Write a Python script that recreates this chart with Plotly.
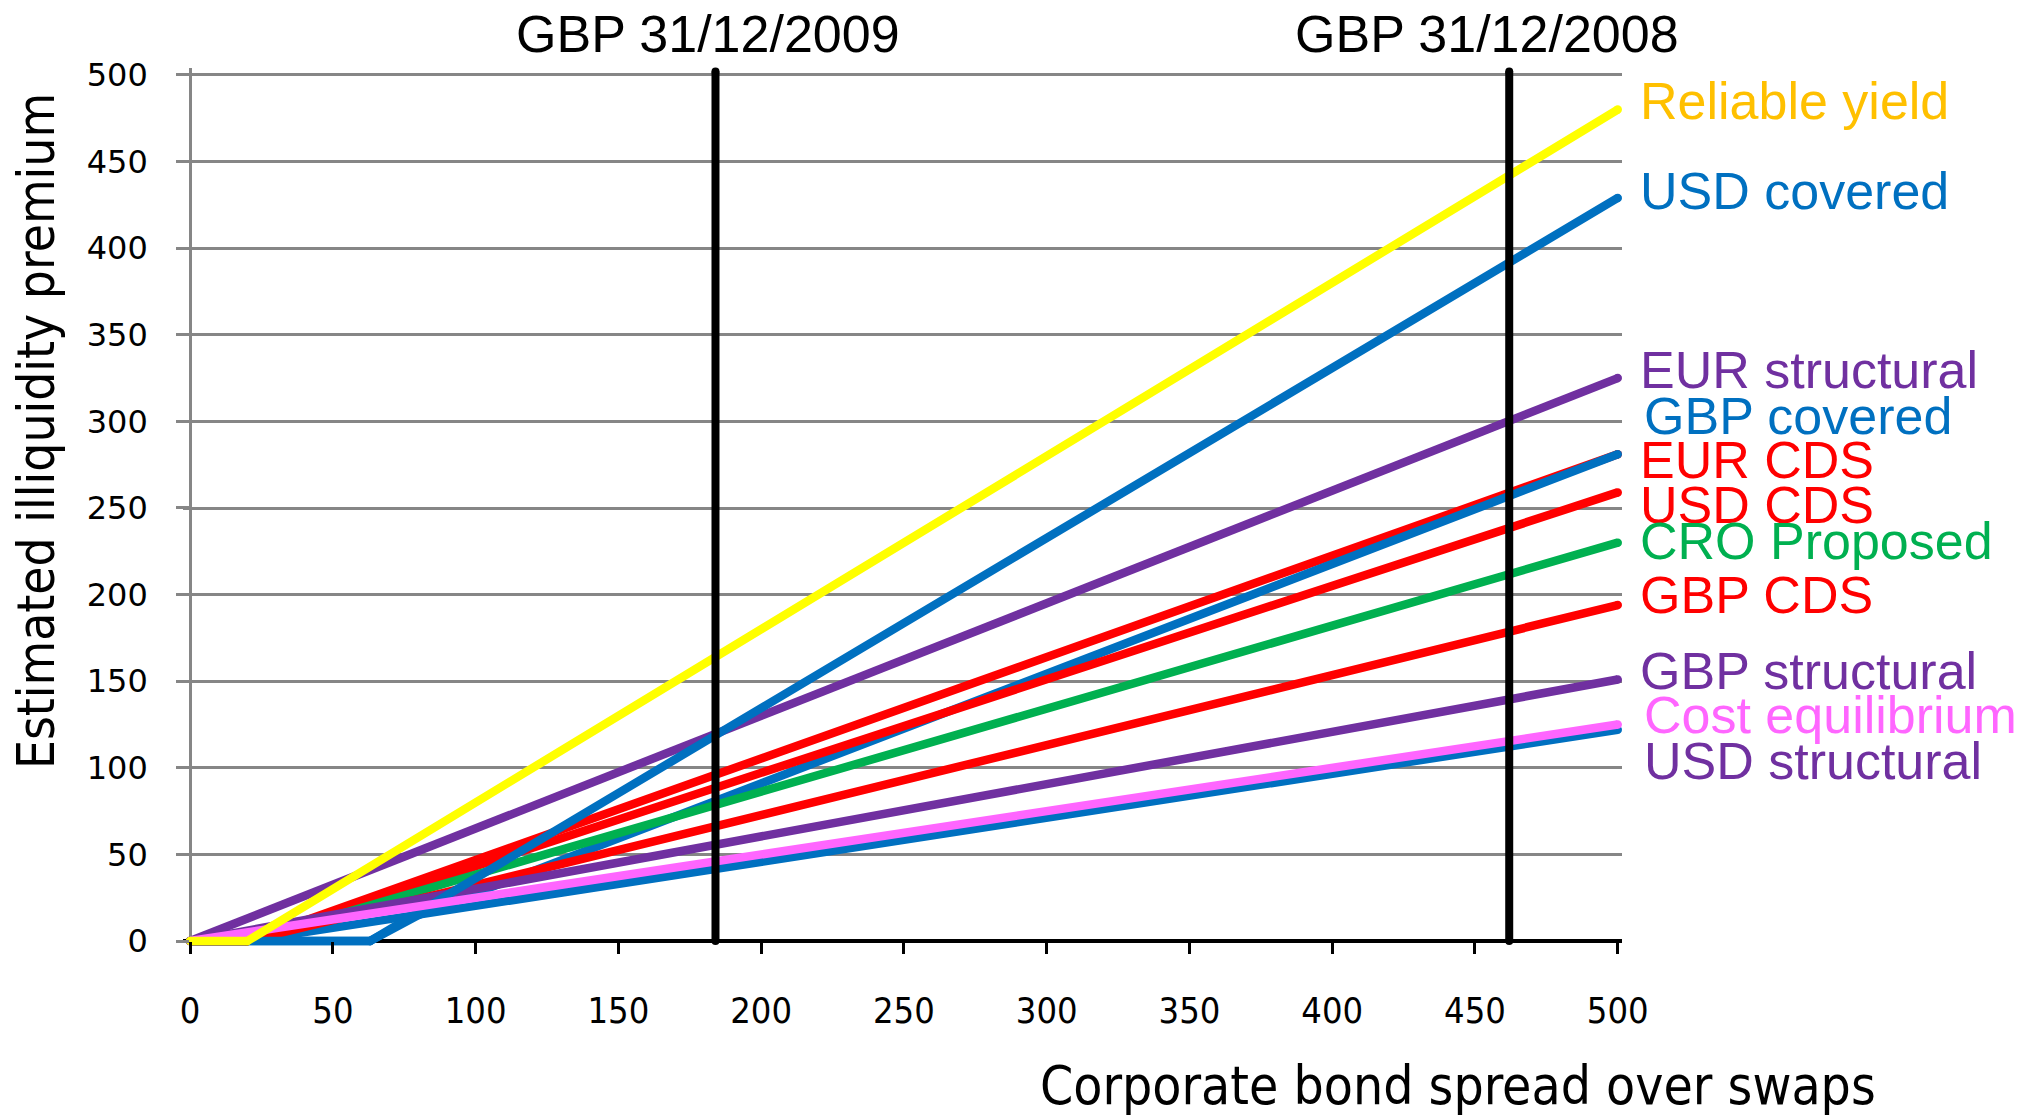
import plotly.graph_objects as go

# ---- data: corporate bond spread (x) vs estimated illiquidity premium (y), bp ----
reliable_yield_x = [0, 20, 500]
reliable_yield_y = [0, 0, 480]

usd_covered_x = [0, 63, 500]
usd_covered_y = [0, 0, 429]

eur_structural_x = [0, 500]
eur_structural_y = [0, 325]

gbp_covered_x = [0, 63, 80, 500]
gbp_covered_y = [0, 0, 15, 281]

eur_cds_x = [0, 20, 500]
eur_cds_y = [0, 0, 281]

usd_cds_x = [0, 20, 500]
usd_cds_y = [0, 0, 259]

cro_proposed_x = [0, 20, 500]
cro_proposed_y = [0, 0, 230]

gbp_cds_x = [0, 20, 500]
gbp_cds_y = [0, 0, 194]

gbp_structural_x = [0, 500]
gbp_structural_y = [0, 151]

cost_equilibrium_x = [0, 500]
cost_equilibrium_y = [0, 125]

usd_structural_x = [0, 20, 500]
usd_structural_y = [0, 0, 122]

# reference dates (spread level on the date)
ref_dates = ["GBP 31/12/2009", "GBP 31/12/2008"]
ref_spreads = [184, 462]
ref_line_top = 502

x_ticks = [0, 50, 100, 150, 200, 250, 300, 350, 400, 450, 500]
y_ticks = [0, 50, 100, 150, 200, 250, 300, 350, 400, 450, 500]

# label name, colour, label position (y, bp), extra x shift
labels = [
    ("Reliable yield", "#FFC000", 485, 0),
    ("USD covered", "#0070C0", 433, 0),
    ("EUR structural", "#7030A0", 329.5, 0),
    ("GBP covered", "#0070C0", 303, 4),
    ("EUR CDS", "#FF0000", 277.5, 0),
    ("USD CDS", "#FF0000", 252, 0),
    ("CRO Proposed", "#00B050", 231, 0),
    ("GBP CDS", "#FF0000", 199.5, 0),
    ("GBP structural", "#7030A0", 156, 0),
    ("Cost equilibrium", "#FF66FF", 130.5, 4),
    ("USD structural", "#7030A0", 104, 4),
]

BLUE = "#0070C0"
PURPLE = "#7030A0"
RED = "#FF0000"
GREEN = "#00B050"
PINK = "#FF66FF"
YELLOW = "#FFFF00"
GRID = "#868686"

NARROW = "DejaVu Sans Condensed, Liberation Sans Narrow, Arial Narrow, sans-serif"
ARIAL = "Liberation Sans, Arial, sans-serif"
WIDE = "DejaVu Sans, Verdana, sans-serif"

LW = 8.5

# drawing order: first is bottom-most
series = [
    ("USD structural", usd_structural_x, usd_structural_y, BLUE),
    ("EUR CDS", eur_cds_x, eur_cds_y, RED),
    ("GBP covered", gbp_covered_x, gbp_covered_y, BLUE),
    ("USD CDS", usd_cds_x, usd_cds_y, RED),
    ("CRO Proposed", cro_proposed_x, cro_proposed_y, GREEN),
    ("GBP CDS", gbp_cds_x, gbp_cds_y, RED),
    ("GBP structural", gbp_structural_x, gbp_structural_y, PURPLE),
    ("EUR structural", eur_structural_x, eur_structural_y, PURPLE),
    ("USD covered", usd_covered_x, usd_covered_y, BLUE),
    ("Cost equilibrium", cost_equilibrium_x, cost_equilibrium_y, PINK),
    ("Reliable yield", reliable_yield_x, reliable_yield_y, YELLOW),
]

fig = go.Figure()

for name, xs, ys, col in series:
    fig.add_trace(go.Scatter(
        x=xs, y=ys, name=name, mode="lines+markers",
        line=dict(color=col, width=LW),
        marker=dict(color=col, size=LW, line=dict(width=0)),
        cliponaxis=False, hoverinfo="skip",
    ))

# vertical reference-date lines
for name, xv in zip(ref_dates, ref_spreads):
    fig.add_trace(go.Scatter(
        x=[xv, xv], y=[0, ref_line_top], name=name, mode="lines+markers",
        line=dict(color="black", width=8),
        marker=dict(color="black", size=8, line=dict(width=0)),
        cliponaxis=False, hoverinfo="skip",
    ))

# empty trace so the tick frame subplot is created
fig.add_trace(go.Scatter(
    x=[0], y=[0], xaxis="x2", yaxis="y2", mode="markers",
    marker=dict(opacity=0, size=1), hoverinfo="skip", showlegend=False,
))

# geometry: main axes slightly padded so thick lines on the edges are not clipped
X_RANGE = [-2.5, 501.5]
Y_RANGE = [-4, 504]
W, H = 2040, 1119
ML, MT = 183, 68
PX_X = 2.856
PX_Y = 1.732
plot_w = (X_RANGE[1] - X_RANGE[0]) * PX_X
plot_h = (Y_RANGE[1] - Y_RANGE[0]) * PX_Y
MR = W - ML - plot_w
MB = H - MT - plot_h

xd0 = (0 - X_RANGE[0]) / (X_RANGE[1] - X_RANGE[0])
xd1 = (500 - X_RANGE[0]) / (X_RANGE[1] - X_RANGE[0])
yd0 = (0 - Y_RANGE[0]) / (Y_RANGE[1] - Y_RANGE[0])
yd1 = (500 - Y_RANGE[0]) / (Y_RANGE[1] - Y_RANGE[0])


def paper_x(px):
    return (px - ML) / plot_w


def paper_y(py):
    return (H - MB - py) / plot_h


fig.update_layout(
    width=W, height=H,
    margin=dict(l=ML, r=MR, t=MT, b=MB, pad=0),
    paper_bgcolor="white",
    plot_bgcolor="rgba(0,0,0,0)",
    showlegend=False,
    xaxis=dict(
        range=X_RANGE, showgrid=False, showticklabels=False, ticks="",
        zeroline=True, zerolinecolor=GRID, zerolinewidth=3, showline=False,
    ),
    yaxis=dict(
        range=Y_RANGE, tickvals=y_ticks[1:], showgrid=True, gridcolor=GRID, gridwidth=3,
        showticklabels=False, ticks="", zeroline=True, zerolinecolor="black",
        zerolinewidth=4, showline=False,
    ),
    # tick marks and tick labels on an exact 0-500 frame
    xaxis2=dict(
        domain=[xd0, xd1], anchor="y2", range=[0, 500], tickvals=x_ticks,
        ticks="outside", ticklen=12, tickwidth=3, tickcolor="black",
        showgrid=False, zeroline=False, showline=False,
        tickfont=dict(family=NARROW, size=36, color="black"),
        ticklabelstandoff=26,
    ),
    yaxis2=dict(
        domain=[yd0, yd1], anchor="x2", range=[0, 500], tickvals=y_ticks,
        ticks="outside", ticklen=13, tickwidth=3, tickcolor=GRID,
        showgrid=False, zeroline=False, showline=False,
        tickfont=dict(family=WIDE, size=32, color="black"),
        ticklabelstandoff=22,
    ),
)

annotations = []
for text, col, yv, dx in labels:
    annotations.append(dict(
        x=500, y=yv, xref="x", yref="y", text=text, showarrow=False,
        xanchor="left", yanchor="middle", xshift=20 + dx,
        font=dict(family=ARIAL, size=52, color=col),
    ))

# reference-date titles above the plot
for text, px in zip(ref_dates, [708, 1487]):
    annotations.append(dict(
        x=paper_x(px), y=paper_y(34), xref="paper", yref="paper", text=text,
        showarrow=False, xanchor="center", yanchor="middle",
        font=dict(family=ARIAL, size=52, color="black"),
    ))

# axis titles
annotations.append(dict(
    x=paper_x(36), y=paper_y(431), xref="paper", yref="paper",
    text="Estimated illiquidity premium",
    showarrow=False, textangle=-90, xanchor="center", yanchor="middle",
    font=dict(family=NARROW, size=51, color="black"),
))
annotations.append(dict(
    x=paper_x(1458.5), y=paper_y(1085), xref="paper", yref="paper",
    text="Corporate bond spread over swaps",
    showarrow=False, xanchor="center", yanchor="middle",
    font=dict(family=NARROW, size=53, color="black"),
))

fig.update_layout(annotations=annotations)

fig.write_html("out.html")
